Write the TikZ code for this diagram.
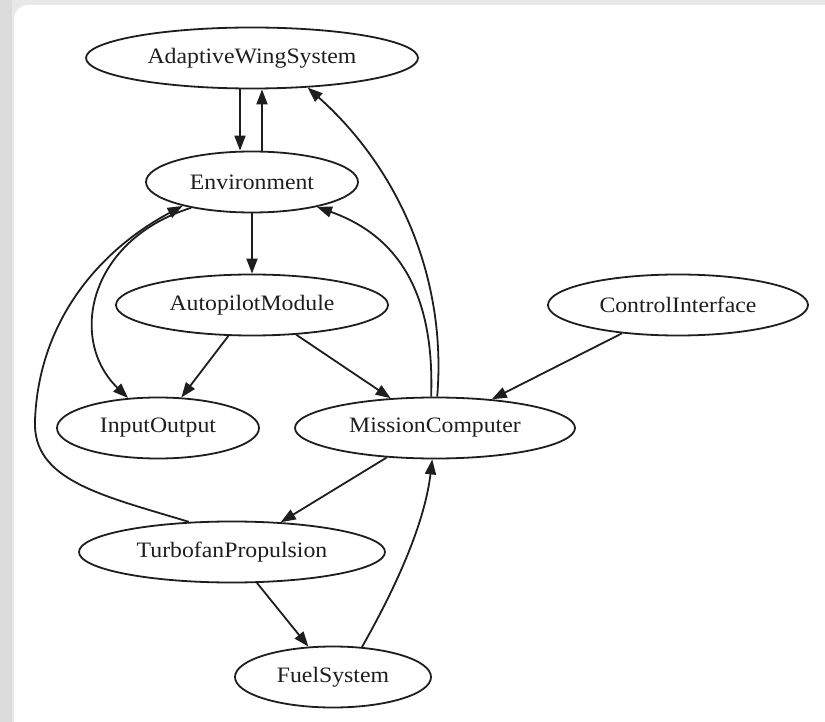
\documentclass[tikz,border=0pt]{standalone}
\usepackage{fontspec}
\setmainfont[FakeStretch=1.08]{Liberation Serif}
\usetikzlibrary{shapes.geometric,arrows.meta}
\definecolor{bggray}{HTML}{DCDCDC}
\definecolor{topgray}{HTML}{E8E8E8}
\definecolor{ink}{HTML}{1E1E1E}
\begin{document}
\begin{tikzpicture}[x=1pt,y=-1pt,
  nd/.style={ellipse, draw=ink, line width=1.8pt, fill=white, inner sep=0pt,
    minimum height=61pt, font=\fontsize{22}{26}\selectfont, text=ink},
  conn/.style={draw=ink, line width=1.8pt, -{Triangle[length=15pt,width=11pt]}}]
\useasboundingbox (0,0) rectangle (825,722);
\clip (0,0) rectangle (825,722);
\fill[topgray] (0,0) rectangle (825,722);
\fill[bggray] (0,0) rectangle (12,722);
\fill[white, rounded corners=14pt] (14,5) rectangle (845,745);

\node[nd, minimum width=332pt] (AWS) at (252,58) {AdaptiveWingSystem};
\node[nd, minimum width=212pt] (Env) at (252,182) {Environment};
\node[nd, minimum width=272pt] (AP) at (252,305) {AutopilotModule};
\node[nd, minimum width=260pt] (CI) at (678,305) {ControlInterface};
\node[nd, minimum width=202pt] (IO) at (158,428) {InputOutput};
\node[nd, minimum width=280pt] (MC) at (435,428) {MissionComputer};
\node[nd, minimum width=306pt] (TP) at (232,552) {TurbofanPropulsion};
\node[nd, minimum width=196pt] (FS) at (333,677) {FuelSystem};

\draw[conn] ([xshift=-12pt]AWS.south) -- ([xshift=-12pt]Env.north);
\draw[conn] ([xshift=10pt]Env.north) -- ([xshift=10pt]AWS.south);
\draw[conn] (Env) -- (AP);
\draw[conn] (AP) -- (IO);
\draw[conn] (AP) -- (MC);
\draw[conn] (CI) -- (MC);
\draw[conn] (MC) -- (TP);
\draw[conn] (TP) -- (FS);

\draw[conn] (MC.86) .. controls (447,280) and (400,170) .. (AWS.-28);
\draw[conn] (MC.97) .. controls (434,310) and (410,240) .. (Env.-21);
\draw[conn] (Env.203) .. controls (88,240) and (68,340) .. (IO.135);
\draw[conn] (TP.145) .. controls (100,495) and (32,480) .. (35,420)
  .. controls (39,320) and (100,250) .. (Env.199);
\draw[conn] (FS.46) .. controls (400,580) and (425,520) .. (MC.-95);
\end{tikzpicture}
\end{document}
